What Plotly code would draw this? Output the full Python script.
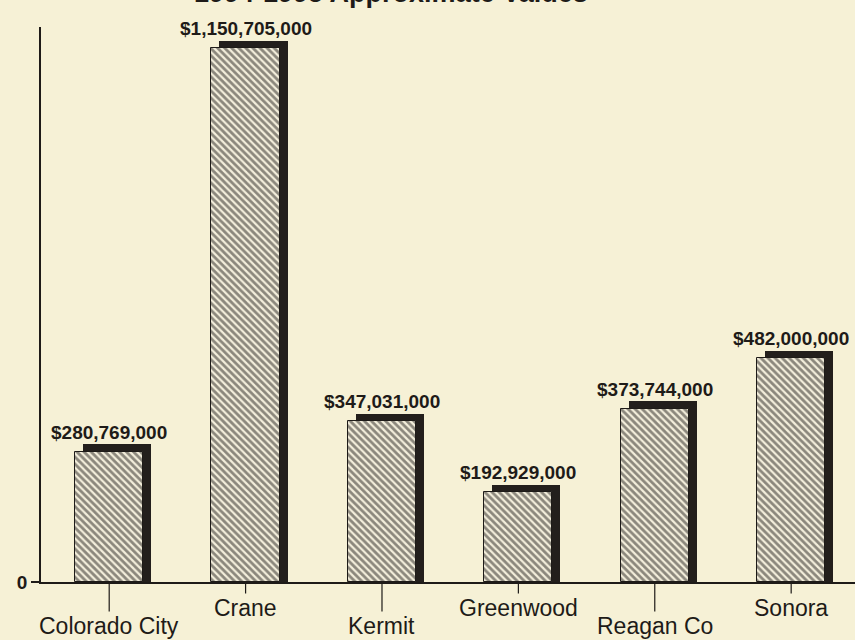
import plotly.graph_objects as go

categories = ["Colorado City", "Crane", "Kermit", "Greenwood", "Reagan Co", "Sonora"]
values = [280769000, 1150705000, 347031000, 192929000, 373744000, 482000000]
value_labels = ["$280,769,000", "$1,150,705,000", "$347,031,000", "$192,929,000", "$373,744,000", "$482,000,000"]
title_text = "1994-1995 Approximate Values"

PAPER = "#f6f1d6"
INK = "#1e1b18"
SHADOW = "#231f1c"
FONT = "Liberation Sans, Arial, sans-serif"

BAR_W = 0.5
DEPTH_X = 0.058          # shadow offset in category units (~8px)
DEPTH_Y = 16e6           # shadow offset in value units (~7px)

fig = go.Figure()

# dark "3D" shadow behind each bar
fig.add_trace(go.Bar(
    x=categories,
    y=[v + DEPTH_Y for v in values],
    width=BAR_W,
    offset=-BAR_W / 2 + DEPTH_X,
    marker=dict(color=SHADOW, line=dict(width=0)),
    hoverinfo="skip",
    showlegend=False,
))

# hatched front faces
fig.add_trace(go.Bar(
    x=categories,
    y=values,
    width=BAR_W,
    offset=-BAR_W / 2,
    marker=dict(
        color="#f3eedb",
        line=dict(color=INK, width=1),
        pattern=dict(shape="\\", bgcolor="#f3eedb", fgcolor="#24201d",
                     size=5, solidity=0.55),
    ),
    showlegend=False,
))

annotations = []
# value labels above bars
for c, v, lab in zip(categories, values, value_labels):
    annotations.append(dict(
        x=c, y=v, xref="x", yref="y", text=lab, showarrow=False,
        yanchor="bottom", yshift=7, xshift=0,
        font=dict(family=FONT, size=19, color=INK, weight="bold"),
    ))

# staggered category labels with tick lines
for i, c in enumerate(categories):
    low = (i % 2 == 0)
    annotations.append(dict(
        x=c, y=0, xref="x", yref="y", text=c,
        showarrow=True, arrowhead=0, arrowwidth=1.2, arrowcolor=INK,
        ax=0, ay=44 if low else 26, standoff=0, startstandoff=0,
        font=dict(family=FONT, size=23, color=INK),
    ))

# title (cut off at top as in the scanned source)
annotations.append(dict(
    x=0.43, y=1, xref="paper", yref="paper", text=title_text,
    showarrow=False, yanchor="bottom", yshift=17,
    font=dict(family=FONT, size=27, color=INK, weight="bold"),
))

fig.update_layout(
    width=855, height=640,
    margin=dict(l=41, r=0, t=27, b=58),
    paper_bgcolor=PAPER, plot_bgcolor=PAPER,
    barmode="overlay",
    bargap=0,
    annotations=annotations,
    xaxis=dict(
        type="category", range=[-0.5, 5.468],
        showline=True, linecolor=INK, linewidth=1.5,
        showticklabels=False, ticks="", showgrid=False, zeroline=False,
    ),
    yaxis=dict(
        range=[0, 1196e6],
        showline=True, linecolor=INK, linewidth=1.5,
        tickvals=[0], ticktext=["0"], ticks="outside", ticklen=8,
        tickcolor=INK, tickwidth=1.5,
        tickfont=dict(family=FONT, size=19, color=INK, weight="bold"),
        showgrid=False, zeroline=False,
    ),
)

fig.write_html(
    "out.html",
    config={"displayModeBar": False},
    post_script="document.body.style.margin='0';document.body.style.overflow='hidden';"
                "document.body.style.background='" + PAPER + "';",
)
